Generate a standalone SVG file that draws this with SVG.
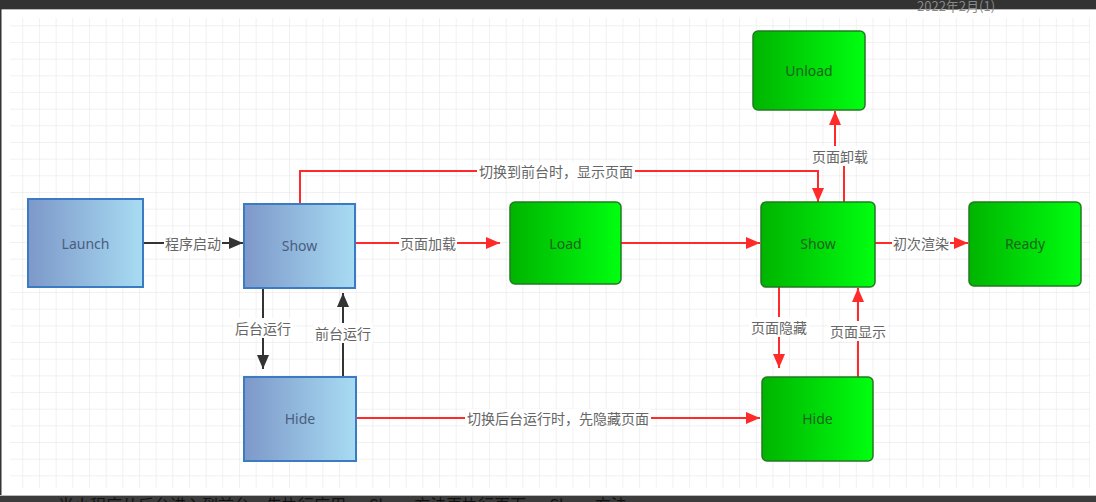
<svg xmlns="http://www.w3.org/2000/svg" width="1096" height="502" viewBox="0 0 1096 502">
<defs>
<style>
.blue rect{fill:url(#gBlue);stroke:#3b7bc2;stroke-width:2}
.green rect{fill:url(#gGreen);stroke:#227a22;stroke-width:1.5}
.nt{font-family:"Noto Sans","Liberation Sans",sans-serif;font-size:14px;text-anchor:middle;dominant-baseline:central}
.blue .nt{fill:#4a5d80}
.green .nt{fill:#1c641c}
.lbl{font-family:"Noto Sans CJK SC","Noto Sans",sans-serif;font-size:14px;fill:#666;text-anchor:middle;dominant-baseline:central}
.red{stroke:#ff2a2a;stroke-width:2;fill:none}
.blk{stroke:#333;stroke-width:2;fill:none}
.bg{fill:#fff}
</style>
<linearGradient id="gBlue" x1="0" y1="0" x2="1" y2="0">
<stop offset="0" stop-color="#7d98c9"/><stop offset="1" stop-color="#a8dcf3"/>
</linearGradient>
<linearGradient id="gGreen" x1="0" y1="0" x2="1" y2="0">
<stop offset="0" stop-color="#00b400"/><stop offset="1" stop-color="#00ff10"/>
</linearGradient>
<marker id="aR" viewBox="0 0 14 12" refX="14" refY="6" markerWidth="14" markerHeight="12" markerUnits="userSpaceOnUse" orient="auto">
<path d="M0 0 L14 6 L0 12 Z" fill="#ff2a2a"/>
</marker>
<marker id="aB" viewBox="0 0 14 12" refX="14" refY="6" markerWidth="14" markerHeight="12" markerUnits="userSpaceOnUse" orient="auto">
<path d="M0 0 L14 6 L0 12 Z" fill="#333"/>
</marker>
<pattern id="grid" x="6.6" y="9.6" width="16.67" height="16.67" patternUnits="userSpaceOnUse">
<path d="M16.67 0 V16.67 M0 16.67 H16.67" stroke="#e3e3e3" stroke-width="1" fill="none"/>
</pattern>
</defs>

<rect width="1096" height="502" fill="#fff"/>
<rect x="10" y="18" width="1080" height="470" fill="url(#grid)"/>

<!-- window chrome -->
<rect x="0" y="0" width="1096" height="9" fill="#333"/>
<rect x="0" y="9" width="1096" height="1" fill="#bbb"/>
<text x="917" y="11" font-family="Noto Sans CJK SC,Liberation Sans,sans-serif" font-size="13" fill="#888">2022年2月(1)</text>
<rect x="0" y="0" width="1.5" height="502" fill="#333"/>
<rect x="0" y="495" width="1096" height="1" fill="#bbb"/>
<rect x="0" y="496" width="1096" height="6" fill="#3c3c3c"/>
<text x="58" y="511" font-family="Noto Sans CJK SC,Liberation Sans,sans-serif" font-size="16" fill="#111">当小程序从后台进入到前台，先执行应用 onShow 方法再执行页面 onShow 方法</text>

<g id="connectors">
<!-- black -->
<path class="blk" d="M143 243 H243" marker-end="url(#aB)"/>
<path class="blk" d="M263 287 V369" marker-end="url(#aB)"/>
<path class="blk" d="M343 377 V293" marker-end="url(#aB)"/>
<!-- red -->
<path class="red" d="M356 243 H500" marker-end="url(#aR)"/>
<path class="red" d="M621 243 H760" marker-end="url(#aR)"/>
<path class="red" d="M875 243 H968" marker-end="url(#aR)"/>
<path class="red" d="M300 204 V171 H818 V202" marker-end="url(#aR)"/>
<path class="red" d="M844 202 V156 H835 V111" marker-end="url(#aR)"/>
<path class="red" d="M779 286 V368" marker-end="url(#aR)"/>
<path class="red" d="M858 377 V288" marker-end="url(#aR)"/>
<path class="red" d="M356 418 H760" marker-end="url(#aR)"/>
<!-- labels -->
<rect class="bg" x="164" y="234" width="58" height="18"/>
<text class="lbl" x="193" y="243">程序启动</text>
<rect class="bg" x="399" y="234" width="58" height="18"/>
<text class="lbl" x="428" y="243">页面加载</text>
<rect class="bg" x="892" y="234" width="58" height="18"/>
<text class="lbl" x="921" y="243">初次渲染</text>
<rect class="bg" x="477" y="162" width="158" height="18"/>
<text class="lbl" x="556" y="171">切换到前台时，显示页面</text>
<rect class="bg" x="810" y="146" width="60" height="20"/>
<text class="lbl" x="840" y="156">页面卸载</text>
<rect class="bg" x="233" y="318" width="60" height="20"/>
<text class="lbl" x="263" y="328">后台运行</text>
<rect class="bg" x="313" y="323" width="60" height="20"/>
<text class="lbl" x="343" y="333">前台运行</text>
<rect class="bg" x="749" y="317" width="60" height="20"/>
<text class="lbl" x="779" y="327">页面隐藏</text>
<rect class="bg" x="828" y="321" width="60" height="20"/>
<text class="lbl" x="858" y="331">页面显示</text>
<rect class="bg" x="465" y="409" width="186" height="18"/>
<text class="lbl" x="558" y="418">切换后台运行时，先隐藏页面</text>
</g>

<g id="launch" class="blue"><rect x="28" y="199" width="115" height="88"/><text class="nt" x="85.5" y="243">Launch</text></g>
<g id="show-app" class="blue"><rect x="244" y="204" width="111" height="84"/><text class="nt" x="299.5" y="245">Show</text></g>
<g id="hide-app" class="blue"><rect x="244" y="377" width="112" height="84"/><text class="nt" x="300" y="418">Hide</text></g>
<g id="load" class="green"><rect x="510" y="202" width="111" height="82" rx="5"/><text class="nt" x="565.5" y="243">Load</text></g>
<g id="show-page" class="green"><rect x="761" y="202" width="114" height="85" rx="5"/><text class="nt" x="818" y="243">Show</text></g>
<g id="ready" class="green"><rect x="969" y="202" width="112" height="84" rx="5"/><text class="nt" x="1025" y="243">Ready</text></g>
<g id="unload" class="green"><rect x="753" y="31" width="112" height="79" rx="5"/><text class="nt" x="809" y="70">Unload</text></g>
<g id="hide-page" class="green"><rect x="762" y="377" width="111" height="84" rx="5"/><text class="nt" x="817.5" y="418">Hide</text></g>
</svg>
